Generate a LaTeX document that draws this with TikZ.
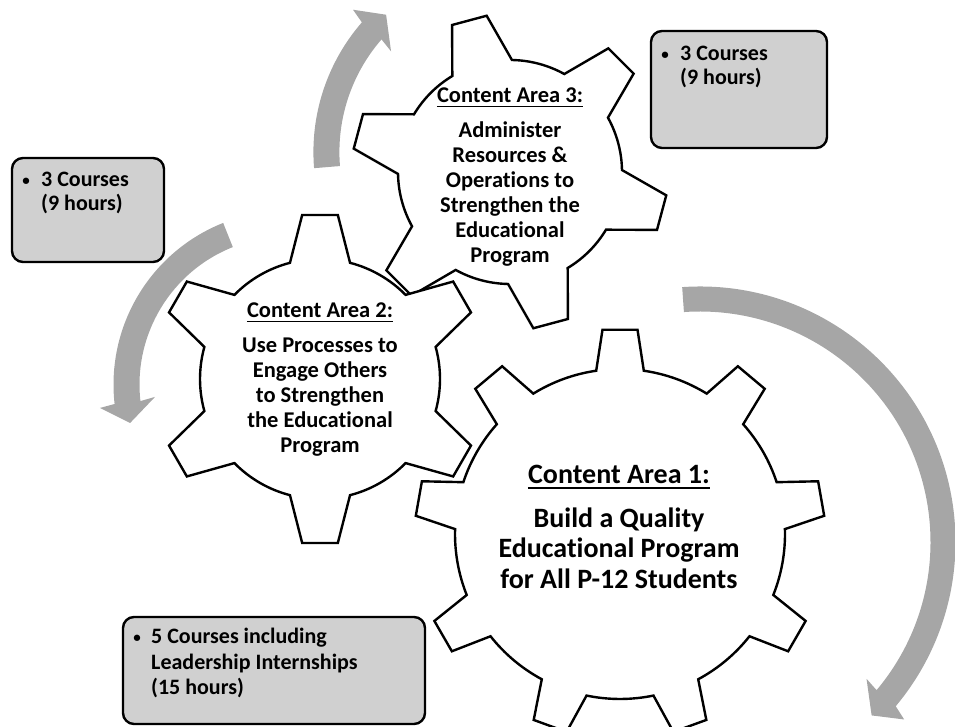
\documentclass[tikz,border=0pt]{standalone}
\usepackage{fontspec}
\setmainfont{Carlito}[RawFeature={-liga}]
\definecolor{arrowgray}{HTML}{A6A6A6}
\definecolor{boxgray}{HTML}{D0D0D0}

% cogwheel outline: #1,#2 centre, #3 teeth, #4 root radius, #5 tip radius,
% #6 angle of first tooth, #7 half angle at root, #8 half angle at tip
\newcommand\cogwheel[8]{%
  \begin{scope}[shift={(#1,#2)}]
    \pgfmathsetmacro\cogstep{360/#3}
    \path[gearline] ({#6-#7}:#4)
      \foreach \k in {1,...,#3}{
        -- ({#6+(\k-1)*\cogstep-#8}:#5)
        -- ({#6+(\k-1)*\cogstep+#8}:#5)
        -- ({#6+(\k-1)*\cogstep+#7}:#4)
        arc[start angle={#6+(\k-1)*\cogstep+#7}, end angle={#6+\k*\cogstep-#7}, radius=#4]
      } -- cycle;
  \end{scope}}

% thick curved block arrow: #1,#2 centre, #3 radius, #4 half width,
% #5 tail angle, #6 head base angle, #7 tip angle, #8 outer wing angle, #9 inner wing angle
\newcommand\bentarrow[9]{%
  \begin{scope}[shift={(#1,#2)}]
    \fill[arrowgray] ({#5}:{#3+#4})
      arc[start angle=#5, end angle=#6, radius={#3+#4}]
      -- ({#8}:{#3+#4+15}) -- ({#7}:{#3+1}) -- ({#9}:{#3-#4-15})
      -- ({#6}:{#3-#4})
      arc[start angle=#6, end angle=#5, radius={#3-#4}] -- cycle;
  \end{scope}}

\begin{document}
\begin{tikzpicture}[x=1pt,y=1pt,
  gearline/.style={draw=black, fill=white, line width=2.4pt, line join=miter},
  notebox/.style={draw=black, fill=boxgray, line width=2.4pt, rounded corners=11pt,
    inner sep=0pt, outer sep=0pt},
  bigtext/.style={font=\fontsize{28}{30}\selectfont\bfseries, inner sep=0pt, anchor=base},
  midtext/.style={font=\fontsize{22.5}{25}\selectfont\bfseries, inner sep=0pt, anchor=base},
  boxtext/.style={font=\fontsize{22}{25}\selectfont\bfseries, inner sep=0pt, anchor=base west},
  dot/.style={font=\fontsize{15}{15}\selectfont\bfseries, inner sep=0pt, anchor=base},
]
\useasboundingbox (0,0) rectangle (955,727);

% curved arrows
\bentarrow{700}{185}{243}{12.5}{94}{-40}{-45.3}{-41}{-39.4}
\bentarrow{511}{575}{184.6}{13}{184.7}{139}{132.3}{138}{140}
\bentarrow{287.5}{342.4}{161}{13}{111.7}{186.4}{193.7}{187.1}{185.3}

% gears
\cogwheel{620}{193}{9}{165}{205}{90}{8.3}{4.9}
\cogwheel{510}{555}{6}{112}{158}{105}{16}{6.5}
\cogwheel{320}{348}{6}{120}{165}{90}{14.5}{6.2}

% gear 1 text
\node[bigtext] (g1title) at (619,243) {Content Area 1:};
\draw[line width=1.8pt] ([yshift=-4pt]g1title.base west) -- ([yshift=-4pt]g1title.base east);
\node[bigtext] (g1a) at (619,199) {Build a Quality};
\node[bigtext] (g1b) at (619,169) {Educational Program};
\node[bigtext] (g1c) at (619,138) {for All P-12 Students};

% gear 2 text
\node[midtext] (g2title) at (320,409) {Content Area 2:};
\draw[line width=1.6pt] ([yshift=-3.5pt]g2title.base west) -- ([yshift=-3.5pt]g2title.base east);
\node[midtext] (g2a) at (320,374) {Use Processes to};
\node[midtext] (g2b) at (320,349) {Engage Others};
\node[midtext] (g2c) at (320,324) {to Strengthen};
\node[midtext] (g2d) at (320,299) {the Educational};
\node[midtext] (g2e) at (320,274) {Program};

% gear 3 text
\node[midtext] (g3title) at (510,624) {Content Area 3:};
\draw[line width=1.6pt] ([yshift=-3.5pt]g3title.base west) -- ([yshift=-3.5pt]g3title.base east);
\node[midtext] (g3a) at (510,589.5) {Administer};
\node[midtext] (g3b) at (510,564.5) {Resources \&};
\node[midtext] (g3c) at (510,539.5) {Operations to};
\node[midtext] (g3d) at (510,514.5) {Strengthen the};
\node[midtext] (g3e) at (510,489.5) {Educational};
\node[midtext] (g3f) at (510,464.5) {Program};

% course boxes
\node[notebox, minimum width=152pt, minimum height=104pt] (boxA) at (88,517) {};
\node[dot] (boxAdot) at (26,541) {\textbullet};
\node[boxtext] (boxAa) at (41,540) {3 Courses};
\node[boxtext] (boxAb) at (41,516) {(9 hours)};

\node[notebox, minimum width=176pt, minimum height=117pt] (boxB) at (739,637.5) {};
\node[dot] (boxBdot) at (665,667) {\textbullet};
\node[boxtext] (boxBa) at (680,666) {3 Courses};
\node[boxtext] (boxBb) at (680,642) {(9 hours)};

\node[notebox, minimum width=302pt, minimum height=107pt] (boxC) at (274,56.5) {};
\node[dot] (boxCdot) at (137,84) {\textbullet};
\node[boxtext] (boxCa) at (151,83) {5 Courses including};
\node[boxtext] (boxCb) at (151,57) {Leadership Internships};
\node[boxtext] (boxCc) at (151,32) {(15 hours)};
\end{tikzpicture}
\end{document}
